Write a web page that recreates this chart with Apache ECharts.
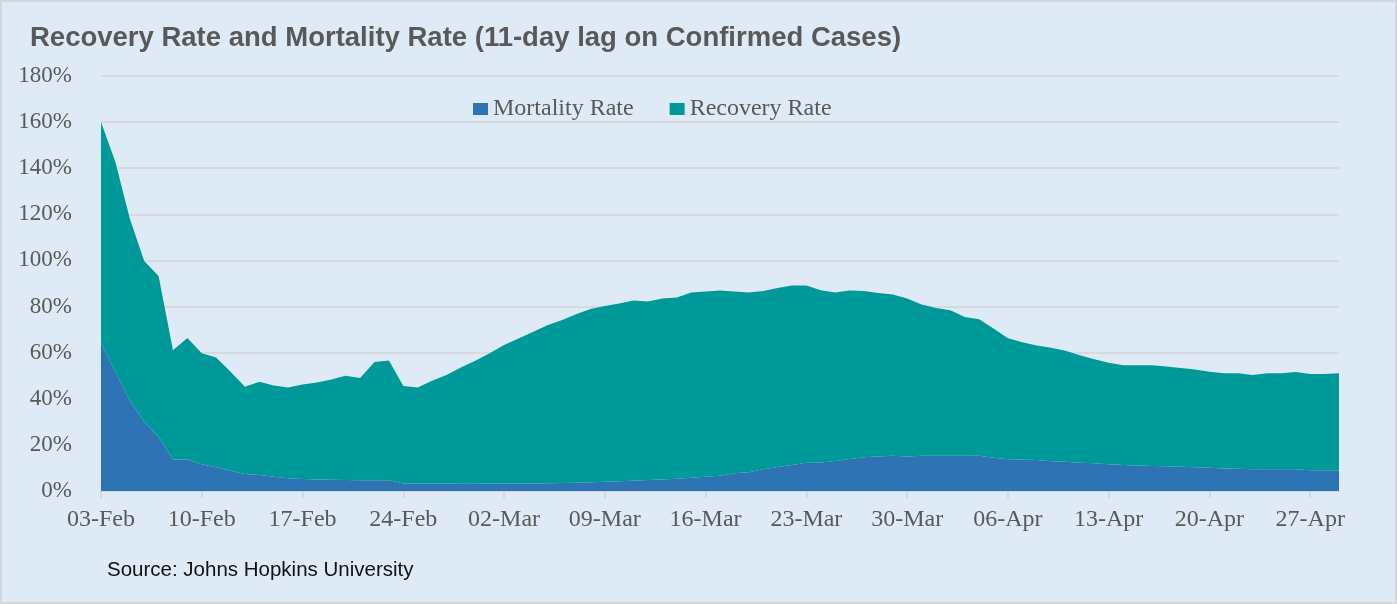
<!DOCTYPE html>
<html>
<head>
<meta charset="utf-8">
<script src="https://cdn.jsdelivr.net/npm/echarts@6/dist/echarts.min.js"></script>
<style>
  html, body { margin: 0; padding: 0; }
  #frame { width: 1397px; height: 604px; box-sizing: border-box; border: 2px solid #D3D6DA; background: #DEEAF6; position: relative; }
  #chart { position: absolute; left: -2px; top: -2px; width: 1397px; height: 604px; }
</style>
</head>
<body>
<div id="frame"><div id="chart"></div></div>
<script>
const categories = [
  '03-Feb','04-Feb','05-Feb','06-Feb','07-Feb','08-Feb','09-Feb','10-Feb','11-Feb','12-Feb',
  '13-Feb','14-Feb','15-Feb','16-Feb','17-Feb','18-Feb','19-Feb','20-Feb','21-Feb','22-Feb',
  '23-Feb','24-Feb','25-Feb','26-Feb','27-Feb','28-Feb','29-Feb','01-Mar','02-Mar','03-Mar',
  '04-Mar','05-Mar','06-Mar','07-Mar','08-Mar','09-Mar','10-Mar','11-Mar','12-Mar','13-Mar',
  '14-Mar','15-Mar','16-Mar','17-Mar','18-Mar','19-Mar','20-Mar','21-Mar','22-Mar','23-Mar',
  '24-Mar','25-Mar','26-Mar','27-Mar','28-Mar','29-Mar','30-Mar','31-Mar','01-Apr','02-Apr',
  '03-Apr','04-Apr','05-Apr','06-Apr','07-Apr','08-Apr','09-Apr','10-Apr','11-Apr','12-Apr',
  '13-Apr','14-Apr','15-Apr','16-Apr','17-Apr','18-Apr','19-Apr','20-Apr','21-Apr','22-Apr',
  '23-Apr','24-Apr','25-Apr','26-Apr','27-Apr','28-Apr','29-Apr'
];

// Mortality rate (%), bottom layer
const mortalityRate = [
  64.3, 51.7, 39.4, 30.0, 23.5, 13.7, 13.7, 11.6, 10.3, 8.8,
  7.4, 6.9, 6.2, 5.5, 5.2, 5.0, 4.9, 4.8, 4.7, 4.7,
  4.7, 3.3, 3.2, 3.2, 3.2, 3.1, 3.1, 3.2, 3.3, 3.3,
  3.3, 3.4, 3.5, 3.6, 3.8, 4.0, 4.2, 4.5, 4.8, 5.0,
  5.3, 5.7, 6.2, 6.6, 7.7, 8.1, 9.4, 10.4, 11.3, 12.3,
  12.4, 13.0, 13.9, 14.6, 15.0, 15.3, 15.0, 15.3, 15.3, 15.3,
  15.3, 15.3, 14.4, 13.8, 13.7, 13.4, 12.9, 12.7, 12.3, 12.0,
  11.6, 11.3, 11.1, 10.8, 10.7, 10.5, 10.3, 10.1, 9.8, 9.7,
  9.4, 9.4, 9.4, 9.4, 9.0, 9.0, 9.0
];

// Recovery rate (%), stacked on top
const recoveryRate = [
  95.7, 91.0, 78.8, 69.8, 69.7, 47.4, 52.7, 48.1, 47.6, 42.9,
  37.8, 40.5, 39.6, 39.4, 41.0, 42.1, 43.5, 45.2, 44.3, 51.3,
  51.9, 42.2, 41.7, 44.6, 47.1, 50.5, 53.4, 56.5, 60.0, 62.8,
  65.7, 68.5, 70.6, 73.1, 75.1, 76.2, 77.1, 78.1, 77.4, 78.5,
  78.6, 80.4, 80.3, 80.4, 78.8, 78.0, 77.3, 77.6, 77.8, 76.8,
  74.7, 73.1, 73.1, 72.2, 70.9, 69.9, 68.5, 65.6, 64.1, 63.1,
  60.2, 59.2, 56.1, 52.5, 50.8, 49.7, 49.2, 48.1, 46.6, 45.1,
  44.0, 43.2, 43.4, 43.7, 43.3, 42.8, 42.4, 41.6, 41.3, 41.4,
  40.9, 41.7, 41.7, 42.2, 41.7, 41.7, 42.1
];

const titleText = 'Recovery Rate and Mortality Rate (11-day lag on Confirmed Cases)';
const sourceText = 'Source: Johns Hopkins University';

const serif = '"Liberation Serif", "Times New Roman", serif';
const chart = echarts.init(document.getElementById('chart'), null, { renderer: 'canvas' });
chart.setOption({
  backgroundColor: 'transparent',
  animation: false,
  title: {
    text: titleText,
    left: 25, top: 19,
    textStyle: { fontFamily: '"Liberation Sans", Arial, sans-serif', fontSize: 27.5, fontWeight: 'bold', color: '#595959' }
  },
  legend: {
    left: 468, top: 92,
    itemWidth: 15, itemHeight: 12, itemGap: 36,
    icon: 'rect',
    textStyle: { fontFamily: serif, fontSize: 24, color: '#595959' },
    data: ['Mortality Rate', 'Recovery Rate']
  },
  graphic: [{
    type: 'text', left: 107, top: 560,
    style: { text: sourceText, fontFamily: '"Liberation Sans", Arial, sans-serif', fontSize: 20.5, fill: '#111' }
  }],
  grid: { left: 101, right: 58, top: 76, bottom: 113, containLabel: false },
  xAxis: {
    type: 'category',
    data: categories,
    boundaryGap: false,
    axisLine: { lineStyle: { color: '#D4D4D4', width: 1.5 } },
    axisTick: { interval: 6, length: 7, lineStyle: { color: '#D4D4D4', width: 1.5 } },
    axisLabel: { interval: 6, margin: 17, fontFamily: serif, fontSize: 24, color: '#595959' },
    splitLine: { show: false }
  },
  yAxis: {
    type: 'value',
    min: 0, max: 180, interval: 20,
    axisLine: { show: false },
    axisTick: { show: false },
    axisLabel: { formatter: '{value}%', margin: 29, fontFamily: serif, fontSize: 23, color: '#595959' },
    splitLine: { lineStyle: { color: '#D4D4D4', width: 1.5 } }
  },
  series: [
    {
      name: 'Mortality Rate', type: 'line', stack: 'total',
      data: mortalityRate, showSymbol: false,
      lineStyle: { width: 0 },
      itemStyle: { color: '#2E74B5' },
      areaStyle: { color: '#2E74B5', opacity: 1 }
    },
    {
      name: 'Recovery Rate', type: 'line', stack: 'total',
      data: recoveryRate, showSymbol: false,
      lineStyle: { width: 0 },
      itemStyle: { color: '#009999' },
      areaStyle: { color: '#009999', opacity: 1 }
    }
  ]
});
</script>
</body>
</html>
